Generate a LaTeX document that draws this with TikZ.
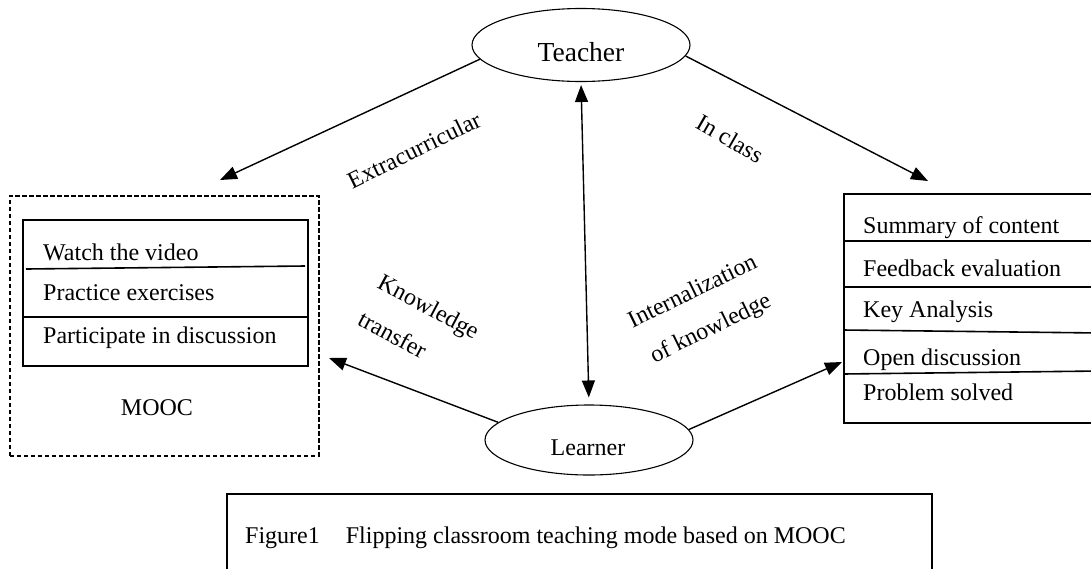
\documentclass[tikz,border=0pt]{standalone}
\usepackage{fontspec}
\setmainfont{Liberation Serif}
\usetikzlibrary{arrows.meta,shapes.geometric}
\begin{document}
\begin{tikzpicture}[x=1pt,y=-1pt,
  txt/.style={font=\fontsize{24}{28}\selectfont, inner sep=0pt},
  oval/.style={draw, ellipse, line width=1.1pt, inner sep=0pt},
  frame/.style={draw, line width=1.8pt, inner sep=0pt, anchor=north west},
  rule/.style={line width=1.6pt},
  arr/.style={line width=1.4pt, -{Triangle[length=17pt,width=13pt]}},
  dbl/.style={line width=1.4pt, {Triangle[length=17pt,width=13pt]}-{Triangle[length=17pt,width=13pt]}},
]
\useasboundingbox (0,0) rectangle (1091,568);
\clip (0,0) rectangle (1091,568);

% actors
\node[oval, minimum width=218pt, minimum height=73pt] (teacher) at (581,45) {};
\node[txt, anchor=base, font=\fontsize{27.5}{32}\selectfont] (teachertext) at (581,61) {Teacher};
\node[oval, minimum width=208pt, minimum height=70pt] (learner) at (589,440) {};
\node[txt, anchor=base] (learnertext) at (588,455) {Learner};

% MOOC side
\node[frame, line width=1.5pt, dash pattern=on 4.5pt off 2.5pt,
      minimum width=309pt, minimum height=260pt] (mooc) at (9,195) {};
\node[frame, minimum width=285pt, minimum height=146pt] (tasks) at (22,219) {};
\draw[rule] (26,269) -- (305,266);
\draw[rule] (22,317) -- (307,317);
\node[txt, anchor=base west] (watch) at (43,260) {Watch the video};
\node[txt, anchor=base west] (practice) at (43,300) {Practice exercises};
\node[txt, anchor=base west] (participate) at (43,343) {Participate in discussion};
\node[txt, anchor=base] (mooclabel) at (157,415) {MOOC};

% classroom side
\node[frame, minimum width=260pt, minimum height=229pt] (inclass) at (843,193) {};
\draw[rule] (843,241) -- (1100,241);
\draw[rule] (843,287) -- (1100,287);
\draw[rule] (843,330) -- (1100,333);
\draw[rule] (843,374) -- (1100,371);
\node[txt, anchor=base west] (summary) at (863,233) {Summary of content};
\node[txt, anchor=base west] (feedback) at (863,276) {Feedback evaluation};
\node[txt, anchor=base west] (keyan) at (863,317) {Key Analysis};
\node[txt, anchor=base west] (opendisc) at (863,365) {Open discussion};
\node[txt, anchor=base west] (solved) at (863,400) {Problem solved};

% connectors
\coordinate (extTip) at (220,180);
\coordinate (classTip) at (928,181);
\coordinate (transTip) at (329,358);
\coordinate (internTip) at (842,362);
\draw[arr] (teacher.188) -- (extTip);
\draw[arr] (teacher.-6) -- (classTip);
\draw[arr] (learner.169) -- (transTip);
\draw[arr] (learner.6) -- (internTip);
\draw[dbl, shorten <=3pt, shorten >=7pt] (teacher.south) -- (learner.north);

% connector labels
\node[txt, rotate=26] (extlabel) at (414,150) {Extracurricular};
\node[txt, rotate=-30] (classlabel) at (730,139) {In class};
\node[txt, rotate=-28, align=left, font=\fontsize{24}{42}\selectfont] (translabel) at (419,325) {Knowledge\\transfer};
\node[txt, rotate=26, align=center, font=\fontsize{24}{41}\selectfont] (internlabel) at (702,311) {Internalization\\of knowledge};

% caption
\node[frame, minimum width=705pt, minimum height=90pt] (capbox) at (226,493) {};
\node[txt, anchor=base west] (caption) at (245,543) {Figure1\hspace{26pt}Flipping classroom teaching mode based on MOOC};
\end{tikzpicture}
\end{document}
